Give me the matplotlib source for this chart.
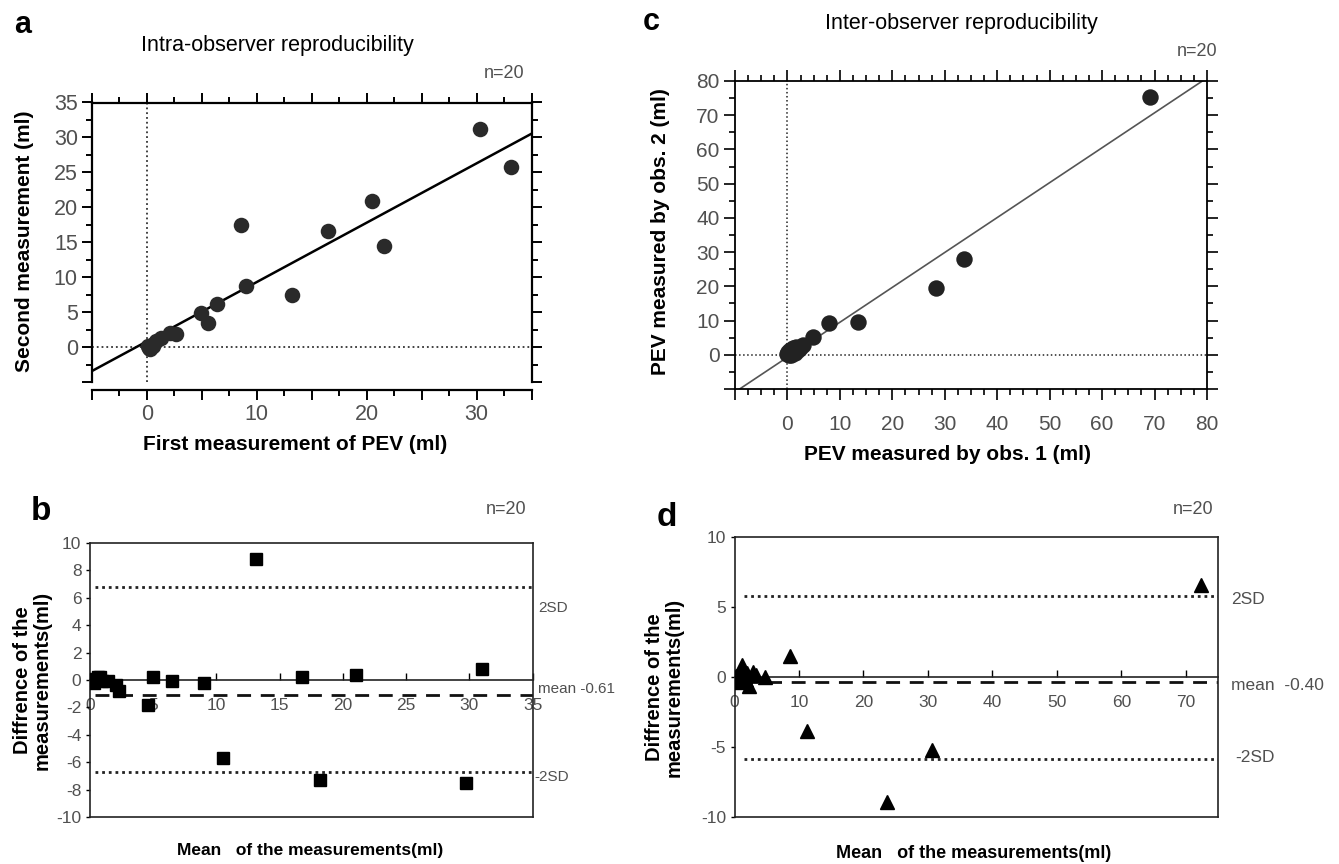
import numpy as np
import matplotlib
matplotlib.use("Agg")
import matplotlib.pyplot as plt
from matplotlib.ticker import MultipleLocator

plt.rcParams['font.family'] = ['Liberation Sans', 'DejaVu Sans']
plt.rcParams['axes.unicode_minus'] = False

W, H = 1339, 864
narrow = ['Liberation Sans Narrow', 'Liberation Sans', 'DejaVu Sans']
gray = '#505050'

# panel a: intra-observer, first vs second measurement (ml)
first_meas = [30.3, 33.1, 20.5, 21.6, 16.5, 8.6, 13.2, 9.0, 6.35, 4.9,
              5.55, 2.7, 2.1, 1.3, 0.8, 0.5, 0.2, 0.1, 0.3, 0.6]
second_meas = [31.2, 25.7, 20.9, 14.4, 16.6, 17.4, 7.4, 8.7, 6.2, 4.9,
               3.4, 1.8, 2.0, 1.3, 0.8, 0.3, -0.1, 0.1, -0.3, 0.1]
a_slope, a_intercept = 0.85, 0.8

# panel b: Bland-Altman for intra-observer
b_mean = [13.1, 31.0, 21.0, 16.8, 5.0, 6.5, 9.0, 4.6, 10.5, 18.2,
          29.7, 2.3, 2.1, 1.4, 0.8, 0.5, 0.25, 0.3, 0.65, 1.0]
b_diff = [8.8, 0.8, 0.4, 0.2, 0.2, -0.1, -0.2, -1.8, -5.7, -7.3,
          -7.5, -0.8, -0.4, -0.1, 0.2, 0.0, 0.1, -0.2, 0.25, -0.1]
b_upper, b_mid, b_lower = 6.75, -1.1, -6.72

# panel c: inter-observer, obs. 1 vs obs. 2 (ml)
obs1 = [69.2, 33.6, 28.3, 13.4, 8.0, 4.9, 3.0, 2.4, 1.7, 1.3,
        0.85, 0.5, 0.25, 0.7, 0.2, 1.4, 2.1, 0.0, 1.0, 0.4]
obs2 = [75.3, 27.9, 19.4, 9.5, 9.2, 5.1, 2.9, 1.9, 2.4, 1.5,
        1.0, 0.5, 0.0, -0.2, 0.7, 0.5, 1.3, 0.3, 2.0, 1.3]
c_slope, c_intercept = 1.02, -0.7

# panel d: Bland-Altman for inter-observer
d_mean = [72.3, 8.6, 11.3, 30.6, 23.7, 4.7, 2.8, 2.3, 1.2, 0.7,
          0.2, 0.4, 0.9, 1.6, 1.9, 3.3, 1.1, 0.0, 1.8, 0.55]
d_diff = [6.6, 1.5, -3.8, -5.2, -8.9, 0.0, 0.4, -0.65, 0.9, 0.3,
          0.1, -0.2, 0.0, 0.1, 0.3, 0.2, 0.5, -0.1, -0.2, -0.3]
d_upper, d_mid, d_lower = 5.83, -0.36, -5.83


def box(l, t, r, b):
    return [l / W, 1 - b / H, (r - l) / W, (b - t) / H]


def ftext(x, y, s, **kw):
    kw.setdefault('ha', 'center')
    kw.setdefault('va', 'center')
    fig.text(x / W, 1 - y / H, s, **kw)


fig = plt.figure(figsize=(W / 100, H / 100), dpi=100)

# ---------- a ----------
ax = fig.add_axes(box(91.7, 102.5, 531.7, 382))
ax.plot([-5, 35], [a_slope * -5 + a_intercept, a_slope * 35 + a_intercept], color='k', lw=1.8, zorder=2)
ax.axvline(0, ls=':', color='#333333', lw=1.3, zorder=1)
ax.axhline(0, ls=':', color='#333333', lw=1.3, zorder=1)
ax.scatter(first_meas, second_meas, s=125, color='#2a2a2a', zorder=3, linewidths=0)
ax.set_xlim(-5, 35)
ax.set_ylim(-5, 35)
ax.set_xticks(np.arange(-5, 40, 5))
ax.set_xticklabels(['', '0', '', '10', '', '20', '', '30', ''])
ax.set_yticks(np.arange(-5, 40, 5))
ax.set_yticklabels([''] + [str(v) for v in range(0, 40, 5)])
ax.xaxis.set_minor_locator(MultipleLocator(2.5))
ax.yaxis.set_minor_locator(MultipleLocator(2.5))
ax.spines['bottom'].set_position(('outward', 6))
for sp in ax.spines.values():
    sp.set_linewidth(1.6)
ax.tick_params(which='both', direction='out', top=True, right=True, width=1.4,
               labelcolor=gray, labelsize=15.5)
ax.tick_params(which='major', length=7, pad=3)
ax.tick_params(which='minor', length=4)

ftext(23, 25, 'a', fontsize=22, fontweight='bold')
ftext(277, 45, 'Intra-observer reproducibility', fontsize=15.5)
ftext(504, 74, 'n=20', fontsize=13, color=gray)
ftext(25, 241, 'Second measurement (ml)', fontsize=15, fontweight='bold', rotation=90)
ftext(295, 445, 'First measurement of PEV (ml)', fontsize=15, fontweight='bold')

# ---------- c ----------
ax = fig.add_axes(box(735, 81, 1207, 389))
ax.plot([-10, 80], [c_slope * -10 + c_intercept, c_slope * 80 + c_intercept], color='#555555', lw=1.2, zorder=2)
ax.axvline(0, ls=':', color='#222222', lw=1.1, zorder=1)
ax.axhline(0, ls=':', color='#222222', lw=1.1, zorder=1)
ax.scatter(obs1, obs2, s=140, color='#222222', zorder=3, linewidths=0)
ax.set_xlim(-10, 80)
ax.set_ylim(-10, 80)
ax.set_xticks(np.arange(-10, 90, 10))
ax.set_xticklabels([''] + [str(v) for v in range(0, 90, 10)])
ax.set_yticks(np.arange(-10, 90, 10))
ax.set_yticklabels([''] + [str(v) for v in range(0, 90, 10)])
ax.xaxis.set_minor_locator(MultipleLocator(2.5))
ax.yaxis.set_minor_locator(MultipleLocator(5))
for sp in ax.spines.values():
    sp.set_linewidth(1.3)
ax.tick_params(which='both', direction='out', top=True, right=True, width=1.2,
               labelcolor=gray, labelsize=15)
ax.tick_params(which='major', length=8, pad=3)
ax.tick_params(which='minor', length=4)
ax.tick_params(axis='x', which='major', pad=11)
for lb in ax.get_xticklabels() + ax.get_yticklabels():
    lb.set_family(narrow)

ftext(651, 22, 'c', fontsize=22, fontweight='bold')
ftext(961, 24, 'Inter-observer reproducibility', fontsize=15.5, family=narrow)
ftext(1197, 52, 'n=20', fontsize=13, color=gray, family=narrow)
ftext(660, 232, 'PEV measured by obs. 2 (ml)', fontsize=15, fontweight='bold', rotation=90)
ftext(948, 455, 'PEV measured by obs. 1 (ml)', fontsize=15, fontweight='bold')


# ---------- b and d ----------
def bland(axbox, xs, ys, marker, ms, xmax, xstep, ystep, upper, mid, lower, line_x0):
    ax = fig.add_axes(axbox)
    ax.plot(xs, ys, ls='none', marker=marker, ms=ms, color='k', zorder=3)
    ax.hlines([upper, lower], line_x0, xmax, colors='#222222', linestyles=(0, (1, 1.4)), lw=2.0)
    ax.hlines(mid, line_x0, xmax, colors='#111111', linestyles=(0, (5, 3.5)), lw=2.0)
    ax.set_xlim(0, xmax)
    ax.set_ylim(-10, 10)
    ax.set_xticks(np.arange(0, xmax + 0.1 if xmax % xstep == 0 else xmax, xstep))
    ax.set_yticks(np.arange(-10, 10.1, ystep))
    ax.spines['bottom'].set_position(('data', 0))
    ax.plot([0, 1], [0, 0], transform=ax.transAxes, color='#222222', lw=1.2, clip_on=False)
    for sp in ax.spines.values():
        sp.set_linewidth(1.2)
        sp.set_color('#222222')
    ax.tick_params(axis='x', direction='in', length=5, width=1.0, pad=13,
                   labelcolor=gray, labelsize=12.5)
    ax.tick_params(axis='y', direction='out', length=3, width=1.0, pad=3,
                   labelcolor=gray, labelsize=12.5)
    for lb in ax.get_xticklabels() + ax.get_yticklabels():
        lb.set_family(narrow)
    return ax


bland(box(89.8, 542.7, 532.7, 817.3), b_mean, b_diff, 's', 8.5, 35, 5, 2,
      b_upper, b_mid, b_lower, 0.4)
ftext(41, 511, 'b', fontsize=24, fontweight='bold')
ftext(506, 510, 'n=20', fontsize=13, color=gray, family=narrow)
ftext(538, 608, '2SD', fontsize=11, color=gray, family=narrow, ha='left')
ftext(538, 689, 'mean -0.61', fontsize=11, color=gray, family=narrow, ha='left')
ftext(534, 777, '-2SD', fontsize=11, color=gray, family=narrow, ha='left')
ftext(32, 680, 'Diffrence of the\nmeasurements(ml)', fontsize=14.5, fontweight='bold',
      rotation=90, linespacing=1.05)
ftext(310, 850, 'Mean   of the measurements(ml)', fontsize=12.5, fontweight='bold', family=narrow)

bland(box(734.5, 537.3, 1218, 817.3), d_mean, d_diff, '^', 10.5, 75, 10, 5,
      d_upper, d_mid, d_lower, 1.5)
ftext(667, 518, 'd', fontsize=24, fontweight='bold')
ftext(1193, 509, 'n=20', fontsize=13, color=gray, family=narrow)
ftext(1231, 599, '2SD', fontsize=12.5, color=gray, family=narrow, ha='left')
ftext(1231, 685, 'mean  -0.40', fontsize=12.5, color=gray, family=narrow, ha='left')
ftext(1235, 757, '-2SD', fontsize=12.5, color=gray, family=narrow, ha='left')
ftext(664, 687, 'Diffrence of the\nmeasurements(ml)', fontsize=14.5, fontweight='bold',
      rotation=90, linespacing=1.05)
ftext(974, 853, 'Mean   of the measurements(ml)', fontsize=13, fontweight='bold', family=narrow)

fig.savefig('out.png', dpi=100)
